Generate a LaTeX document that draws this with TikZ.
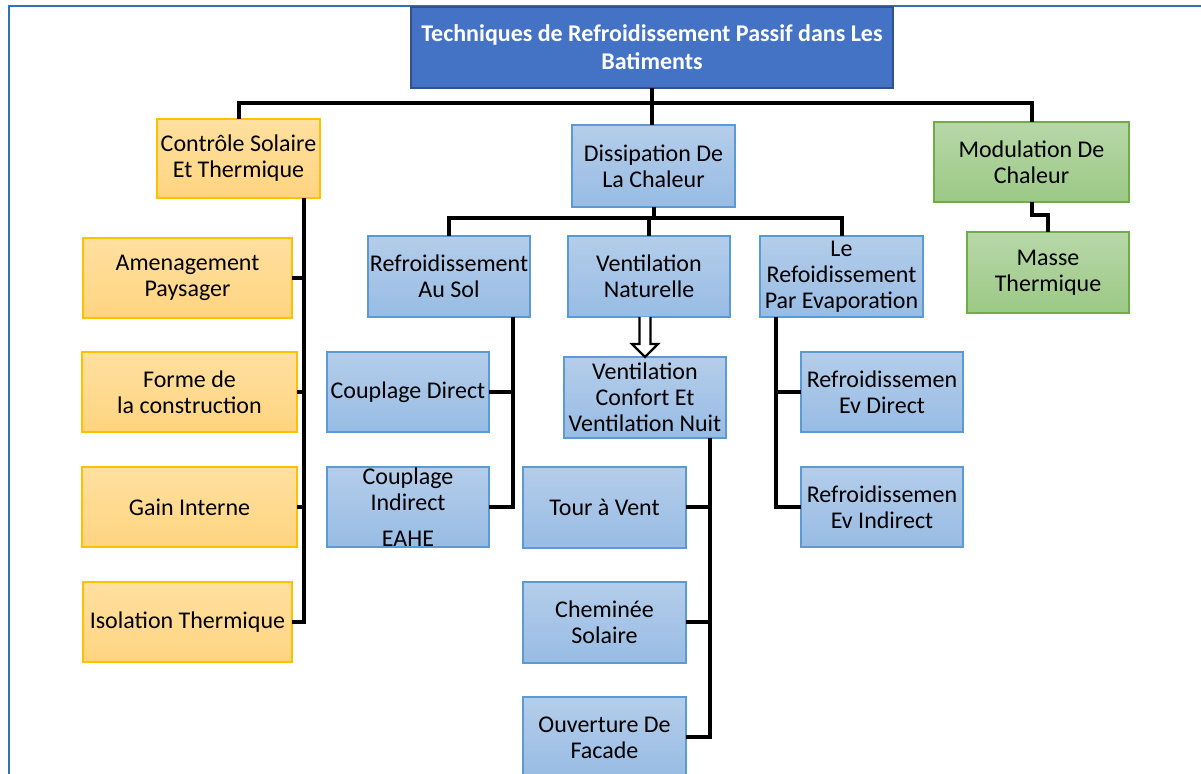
\documentclass[tikz,border=0pt]{standalone}
\usepackage{fontspec}
\setmainfont{Carlito}
\definecolor{frameblue}{RGB}{46,117,182}
\definecolor{titlefill}{RGB}{68,114,196}
\definecolor{titledraw}{RGB}{47,82,143}
\definecolor{btop}{RGB}{180,205,234}
\definecolor{bbot}{RGB}{152,188,228}
\definecolor{bdraw}{RGB}{91,155,213}
\definecolor{otop}{RGB}{255,224,160}
\definecolor{obot}{RGB}{255,212,128}
\definecolor{odraw}{RGB}{255,192,0}
\definecolor{gtop}{RGB}{183,215,168}
\definecolor{gbot}{RGB}{156,201,134}
\definecolor{gdraw}{RGB}{112,173,71}
\tikzset{
  base/.style={inner sep=0pt, outer sep=0pt, align=center, font=\fontsize{12}{13}\selectfont, line width=0.7pt},
  bluebox/.style={base, draw=bdraw, top color=btop, bottom color=bbot},
  orangebox/.style={base, draw=odraw, top color=otop, bottom color=obot},
  greenbox/.style={base, draw=gdraw, top color=gtop, bottom color=gbot},
  titlebox/.style={base, draw=titledraw, fill=titlefill, text=white, font=\fontsize{12}{14}\selectfont\bfseries},
  link/.style={draw=black, line width=2pt},
  hollow/.style={draw=black, line width=1.1pt, fill=white, line join=miter}
}
% \mybox{style}{name}{x1}{y1}{x2}{y2}{text}
\newcommand\mybox[7]{%
  \node[#1, minimum width={(#5-#3)*0.5pt}, minimum height={(#6-#4)*0.5pt}]
    (#2) at ({(#3+#5)/2},{(#4+#6)/2}) {#7};}
\begin{document}
\begin{tikzpicture}[x=0.5pt, y=-0.5pt]
\useasboundingbox (0,0) rectangle (1201,774);
\fill[white] (0,0) rectangle (1201,774);
\draw[frameblue, line width=1pt] (1201,6) -- (9,6) -- (9,774);

% nodes
\mybox{titlebox}{title}{411}{7}{893}{88}{Techniques de Refroidissement Passif dans Les\\Batiments}
\mybox{orangebox}{csol}{157}{119}{320}{198}{Contrôle Solaire\\Et Thermique}
\mybox{bluebox}{diss}{572}{125}{735}{207}{Dissipation De\\La Chaleur}
\mybox{greenbox}{mod}{934}{122}{1129}{202}{Modulation De\\Chaleur}
\mybox{greenbox}{masse}{967}{232}{1129}{313}{Masse\\Thermique}

\mybox{bluebox}{sol}{368}{236}{530}{317}{Refroidissement\\Au Sol}
\mybox{bluebox}{vn}{568}{236}{730}{317}{Ventilation\\Naturelle}
\mybox{bluebox}{evap}{760}{236}{923}{317}{Le\\Refoidissement\\Par Evaporation}

\mybox{bluebox}{cd}{327}{352}{489}{432}{Couplage Direct}
\mybox{bluebox}{ci}{327}{467}{489}{547}{Couplage\\Indirect\\[5pt]EAHE}
\mybox{bluebox}{vc}{564}{357}{726}{438}{Ventilation\\Confort Et\\Ventilation Nuit}
\mybox{bluebox}{tour}{523}{467}{686}{548}{Tour à Vent}
\mybox{bluebox}{chem}{523}{582}{686}{663}{Cheminée\\Solaire}
\mybox{bluebox}{ouv}{523}{697}{686}{778}{Ouverture De\\Facade}
\mybox{bluebox}{evd}{801}{352}{963}{432}{Refroidissemen\\Ev Direct}
\mybox{bluebox}{evi}{801}{467}{963}{547}{Refroidissemen\\Ev Indirect}

\mybox{orangebox}{amen}{83}{238}{292}{318}{Amenagement\\Paysager}
\mybox{orangebox}{forme}{82}{352}{297}{432}{Forme de\\la construction}
\mybox{orangebox}{gain}{82}{467}{297}{547}{Gain Interne}
\mybox{orangebox}{iso}{83}{582}{292}{662}{Isolation Thermique}

% connectors
\coordinate (b1) at (653,103);
\draw[link] (csol.north) |- (b1) -| (mod.north);
\draw[link] (title.south) -- (title.south |- diss.north);

\coordinate (b2) at (653,218);
\draw[link] (sol.north) |- (b2) -| (evap.north);
\draw[link] (diss.south) -- (diss.south |- b2);
\draw[link] (vn.north) -- (vn.north |- b2);

\coordinate (m1) at (1048,215);
\draw[link] (mod.south) |- (m1) -| (masse.north);

\coordinate (lx) at (304,0);
\draw[link] (csol.south -| lx) -- (iso.east -| lx) -- (iso.east);
\draw[link] (amen.east) -- (amen.east -| lx);
\draw[link] (forme.east) -- (forme.east -| lx);
\draw[link] (gain.east) -- (gain.east -| lx);

\coordinate (sx) at (513,0);
\draw[link] (sol.south -| sx) -- (ci.east -| sx) -- (ci.east);
\draw[link] (cd.east) -- (cd.east -| sx);

\coordinate (vx) at (710,0);
\draw[link] (vc.south -| vx) -- (ouv.east -| vx) -- (ouv.east);
\draw[link] (tour.east) -- (tour.east -| vx);
\draw[link] (chem.east) -- (chem.east -| vx);

\coordinate (ex) at (776,0);
\draw[link] (evap.south -| ex) -- (evi.west -| ex) -- (evi.west);
\draw[link] (evd.west) -- (evd.west -| ex);

% hollow arrow
\coordinate (at) at (vc.north |- vn.south);
\draw[hollow] ([xshift=-2.75pt]at) -- ([xshift=-2.75pt,yshift=6.5pt]vc.north)
  -- ([xshift=-6.5pt,yshift=6.5pt]vc.north) -- (vc.north)
  -- ([xshift=6.5pt,yshift=6.5pt]vc.north) -- ([xshift=2.75pt,yshift=6.5pt]vc.north)
  -- ([xshift=2.75pt]at);
\end{tikzpicture}
\end{document}
